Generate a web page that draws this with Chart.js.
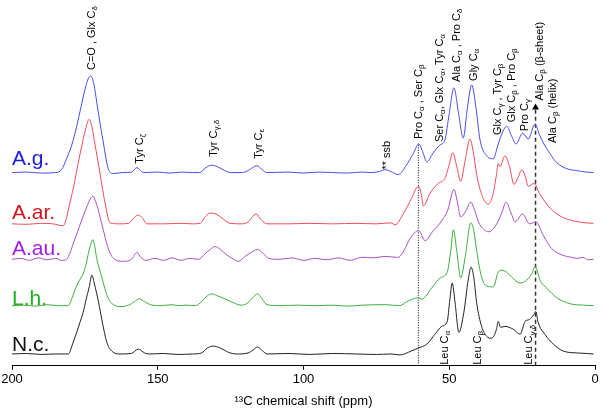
<!DOCTYPE html>
<html>
<head>
<meta charset="utf-8">
<script src="https://cdn.jsdelivr.net/npm/chart.js@4.4.0/dist/chart.umd.min.js"></script>
<style>
  html, body { margin: 0; padding: 0; background: #fff; }
  #wrap { width: 603px; height: 411px; }
</style>
</head>
<body>
<div id="wrap"><canvas id="nmr"></canvas></div>
<script>
// spectra: [ppm, intensity above own baseline]
var agPts = [[200,0],[195,0.5],[190,-0.5],[185,0],[183,3],[181.3,14],[179.5,28],[177.8,47],[176.3,67],[175,84],[173.9,95],[173,98],[172,91],[170.9,71],[169.8,50],[168.7,31],[167.8,15],[167,4],[165.3,-1],[162,0],[159,0.5],[157.2,5],[155.5,1],[155,0],[150,0.5],[146,-0.5],[142,0.5],[138,0],[135.7,0],[133.5,5],[131.5,7.5],[129.5,6],[127,2],[125,0],[121,0],[119,2],[116,7],[114.2,3],[112.5,0],[105,0.5],[100,-0.5],[95,0.5],[90,0],[85,-0.5],[80,0.5],[77,0],[74,1],[72,3],[70,1],[67.5,-2],[64.6,8],[62.4,19],[60.4,29],[59,20],[57.7,11],[55.5,20],[53.2,28],[51.5,33],[50,60],[48.4,86],[46.8,60],[45.2,35],[43.8,65],[42.3,89],[40.8,65],[39.5,34],[37.2,17],[34.9,14],[33.3,28],[32,39],[30.3,47],[28.6,37],[27.1,29],[24.8,40],[22.9,34],[20.6,49],[19,38],[17.7,30],[15.4,19],[13.1,10],[9.7,4],[6.3,2],[3,0.5],[0.5,0]];
var aarPts = [[200,0],[195,-0.5],[190,0.5],[186,0],[182.5,-2],[180,23],[178.5,43],[177.2,63],[176,80],[175,93],[173.5,106],[172.5,97],[171.5,80],[170.3,60],[169.2,40],[168,20],[166.4,1],[163,0],[160,0.5],[158.5,5],[156.7,9],[155,5],[153.8,0],[148,0],[142,0.5],[138,0],[135.5,0.5],[133.5,8],[132,11],[130,10],[128,6],[125.2,0.5],[121,0],[119,2],[116.3,10],[114.5,4],[112.5,0],[105,0],[98,0.5],[90,0],[82,0.5],[75,0],[70,1],[68.6,-1],[65.8,10],[62.9,26],[60.6,38],[59.6,30],[58.9,18],[56.6,31],[53.8,41],[51.5,46],[50.2,58],[48.8,72],[47.4,58],[46.1,43],[44.5,65],[42.9,86],[41.7,72],[40.6,50],[38.9,30],[36.6,20],[35,30],[33.8,50],[33.2,61],[32.6,58],[30.9,69],[29.3,58],[27.8,40],[26.4,47],[25.1,55],[23.9,48],[22.9,38],[20.9,41],[18.9,30],[15.4,16],[12,8],[7.4,3],[3,1],[0.5,0.5]];
var aauPts = [[200,0],[197,1],[194,-1],[191,1.5],[188,-0.5],[185,1],[183,-1],[181.3,0],[180,7],[179,16],[177.5,28],[176.2,39],[174.5,52],[173.2,61],[172.3,64],[171,56],[169.8,43],[168.6,29],[167.5,16],[166.3,6],[165.2,1],[161.8,-2],[159,0],[157.2,7],[155.8,2],[154,-1],[151,1],[148,-1],[145,1.5],[142,-1],[139,1],[136,0],[134,5],[132,10],[130.4,13],[128.5,10],[126.5,5],[124.5,1],[122.4,-2],[120,3],[118,7],[115.8,10],[113.8,6],[112,1],[108,0],[104,1.5],[100,-1],[96,1],[92,-0.5],[88,1.5],[84,-1],[80,2],[76,1.5],[72,3],[68,2],[66.9,3],[65,12],[63.5,21],[60.4,29],[58.3,19],[55.5,29],[52.6,39],[50.5,50],[48.4,71],[47.2,58],[46.1,43],[44.5,48],[42.6,58],[41.3,50],[40,38],[38,30],[36.4,28],[33.7,36],[32,47],[30.5,58],[28.8,47],[27.4,38],[24.8,46],[22.5,36],[20.3,38],[17.7,24],[14.9,11],[10.9,4],[8,2],[6.3,1],[4,2],[2.5,-0.5],[0.5,0]];
var lhPts = [[200,0],[196,0.5],[192,-0.5],[188,1],[184,0],[180.7,0],[179.5,7],[178.4,16],[177,25],[175.5,33],[174.6,42],[173.8,53],[172.9,63],[172.3,67],[171.6,60],[171,49],[170.1,38],[169.2,29],[168.4,20],[167.5,11],[166.3,4],[165.2,1],[163,-1],[160,0.5],[158,4],[156.3,7],[154.5,4],[152.5,1],[149,0],[145,1],[143,0],[140,0.5],[137,0],[135,4],[133,10],[131.5,12],[129.5,10],[127,7],[124,3],[121.5,0.5],[119,3],[117.5,8],[115.8,12],[114,6],[112.5,1],[108,0],[102,0.5],[96,0],[90,0.5],[85,-0.5],[80,0.5],[72,1],[67,0],[64.6,4],[60.6,8],[59.5,6.5],[56,18],[53.2,28],[50.7,34],[49.5,55],[48.6,77],[47.4,55],[46.1,28],[44.5,50],[42.6,84],[41.5,75],[40.6,56],[38.9,29],[37.2,20],[34.9,19],[33.2,34],[32,36],[30.3,34],[28.6,29],[25.7,23],[23.4,26],[21.6,33],[20.5,40],[19.6,33],[18.9,26],[16.6,18],[13.1,8],[8.6,2],[4,0.5],[0.5,0]];
var ncPts = [[200,0],[195,0.5],[190,-0.5],[185,0],[180.7,0],[179,12],[177.8,22],[176.7,32],[175.6,42],[174.6,55],[173.5,68],[172.6,80],[171.8,72],[171,62],[170,48],[169.2,35],[168.3,22],[167.5,12],[165.8,3],[163,0],[159,0.5],[156.7,5],[154.5,1],[153,0],[148,0.5],[143,-0.5],[138,0],[135,1],[133,6],[131,8],[128.5,6],[126,2],[123,0],[119,1],[117.3,4],[115.8,7],[114,3],[112.5,0],[105,0.5],[98,-0.5],[90,0.5],[82,0],[75,-0.5],[70,0],[66.9,-1],[63,3],[60.6,6],[57.7,10],[54.9,20],[52.6,28],[50.7,33],[49.8,55],[49,72],[48,52],[46.7,22],[45,42],[43.5,75],[42.5,88],[41.5,76],[40.6,52],[38.9,28],[37.2,18],[35.5,16],[33.8,25],[33.2,33],[32.4,27],[30.9,28],[28,25],[25.7,20],[24,33],[22.5,35],[21,40],[20.3,43],[19.5,32],[17.2,20],[14.3,10],[10.9,3],[6,1],[3,0.5],[0.5,0]];

var names = ['A.g.', 'A.ar.', 'A.au.', 'L.h.', 'N.c.'];
var spectra = [agPts, aarPts, aauPts, lhPts, ncPts];
var xTicks = [0, 50, 100, 150, 200];

// stacking offsets and colours
var baselines = [196, 144, 108, 61, 12];
var lineColors = ['#4b4bf2', '#ee4d58', '#a650c2', '#3caf3c', '#222222'];
var nameColors = ['#1c1ce0', '#d3161f', '#a020e8', '#20b020', '#111111'];
var nameY = [204, 149, 112, 62, 15];

// peak assignments: [ppm, start height, text]  (_{..} = subscript)
var peakLabels = [
  [172.5, 300, 'C=O , Glx C_{δ}'],
  [156, 205, 'Tyr C_{ζ}'],
  [130.7, 212, 'Tyr C_{γ,δ}'],
  [115.4, 210, 'Tyr C_{ε}'],
  [71.5, 199, '** ssb'],
  [60.5, 230, 'Pro C_{α} , Ser C_{β}'],
  [53.2, 227, 'Ser C_{α}, Glx C_{α}, Tyr C_{α}'],
  [47.4, 288, 'Ala C_{α} , Pro C_{δ}'],
  [41.6, 289, 'Gly C_{α}'],
  [33.4, 234, 'Glx C_{γ} , Tyr C_{β}'],
  [28.6, 247, 'Glx C_{β} , Pro C_{β}'],
  [24, 238, 'Pro C_{γ}'],
  [18.9, 269, 'Ala C_{β} (β-sheet)'],
  [14.4, 226, 'Ala C_{β} (helix)'],
  [51.5, 1, 'Leu C_{α}'],
  [40.1, 1, 'Leu C_{β}'],
  [22.5, 1, 'Leu C_{γ,δ}']
];

var datasets = spectra.map(function(pts, i){
  return {
    label: names[i],
    data: pts.map(function(p){ return {x: p[0], y: p[1] + baselines[i]}; }),
    borderColor: lineColors[i],
    borderWidth: 1,
    pointRadius: 0,
    showLine: true,
    fill: false,
    cubicInterpolationMode: 'monotone'
  };
});

// reference lines: Pro C-alpha (dotted) and Ala C-beta arrow (dashed)
datasets.push({
  data: [{x: 60.6, y: 0}, {x: 60.6, y: 226}],
  borderColor: '#000', borderWidth: 1, borderDash: [1, 1.5],
  pointRadius: 0, showLine: true
});
datasets.push({
  data: [{x: 20.4, y: 0}, {x: 20.4, y: 262}],
  borderColor: '#333', borderWidth: 1.5, borderDash: [4, 3],
  pointRadius: [0, 4], pointStyle: 'triangle',
  pointBackgroundColor: '#000', pointBorderColor: '#000', pointBorderWidth: 0,
  showLine: true
});

var FONT = '"Liberation Sans", Arial, sans-serif';

function drawRich(ctx, str, x, y){
  ctx.save();
  ctx.translate(x, y);
  ctx.rotate(-Math.PI / 2);
  ctx.textBaseline = 'middle';
  ctx.textAlign = 'left';
  ctx.fillStyle = '#000';
  var pos = 0;
  var parts = str.split(/_\{([^}]*)\}/);
  parts.forEach(function(p, i){
    if (!p) return;
    var sub = i % 2 === 1;
    ctx.font = (sub ? '8px ' : '11px ') + FONT;
    ctx.fillText(p, pos, sub ? 3 : 0);
    pos += ctx.measureText(p).width;
  });
  ctx.restore();
}

var labelPlugin = {
  id: 'nmrLabels',
  afterDatasetsDraw: function(chart){
    var ctx = chart.ctx, xs = chart.scales.x, ys = chart.scales.y;
    peakLabels.forEach(function(l){
      drawRich(ctx, l[2], xs.getPixelForValue(l[0]), ys.getPixelForValue(l[1]));
    });
    ctx.save();
    ctx.font = '21px ' + FONT;
    ctx.textAlign = 'left';
    ctx.textBaseline = 'alphabetic';
    names.forEach(function(n, i){
      ctx.fillStyle = nameColors[i];
      ctx.fillText(n, xs.getPixelForValue(200), ys.getPixelForValue(nameY[i]));
    });
    ctx.restore();
  }
};

new Chart(document.getElementById('nmr'), {
  type: 'scatter',
  data: { datasets: datasets },
  options: {
    responsive: true,
    maintainAspectRatio: false,
    animation: false,
    layout: { padding: { top: 0, left: 12, right: 8, bottom: 0 } },
    plugins: { legend: { display: false }, tooltip: { enabled: false } },
    scales: {
      x: {
        type: 'linear',
        reverse: true,
        min: 0, max: 200,
        afterBuildTicks: function(axis){ axis.ticks = xTicks.map(function(v){ return {value: v}; }); },
        ticks: { color: '#000', font: { family: FONT, size: 13 }, padding: 2, maxRotation: 0 },
        grid: { drawOnChartArea: false, drawTicks: true, tickLength: 4, color: '#000' },
        border: { display: true, color: '#000', width: 1 },
        title: { display: true, text: '¹³C chemical shift (ppm)', color: '#000',
                 font: { family: FONT, size: 13 }, padding: { top: 4, bottom: 2 } }
      },
      y: { display: false, min: 0, max: 367 }
    }
  },
  plugins: [labelPlugin]
});
</script>
</body>
</html>
